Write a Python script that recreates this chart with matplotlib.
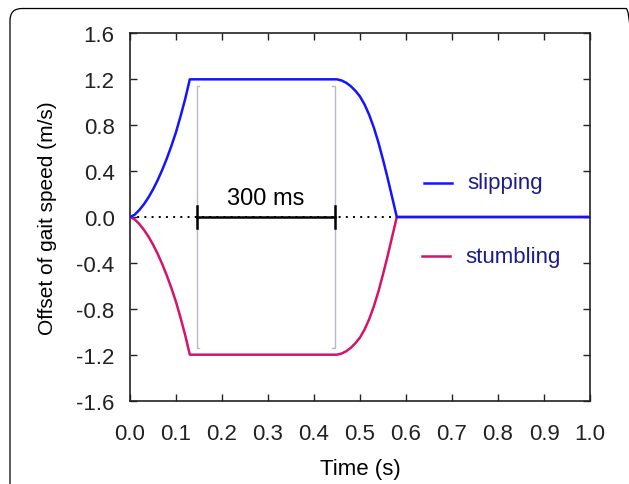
import matplotlib as mpl
mpl.use('Agg')
import matplotlib.pyplot as plt
from matplotlib.patches import FancyBboxPatch

plt.rcParams['font.family'] = ['Liberation Sans', 'DejaVu Sans']

# perturbation profile (time in s, speed offset in m/s)
t_slip = [0.00, 0.01, 0.02, 0.03, 0.04, 0.05, 0.06, 0.07, 0.08, 0.09, 0.10,
          0.11, 0.12, 0.13, 0.45, 0.46, 0.47, 0.48, 0.49, 0.50, 0.51,
          0.52, 0.53, 0.54, 0.55, 0.56, 0.57, 0.58, 1.00]
v_slip = [0.00, 0.02, 0.06, 0.11, 0.17, 0.24, 0.32, 0.41, 0.51, 0.62, 0.74,
          0.88, 1.03, 1.20, 1.20, 1.19, 1.17, 1.14, 1.10, 1.05, 0.98,
          0.89, 0.78, 0.65, 0.50, 0.34, 0.17, 0.00, 0.00]
t_stumble = t_slip
v_stumble = [-v for v in v_slip]

bar_start = 0.145
bar_len = 0.300   # 300 ms
bracket_h = 1.14

xticks = [i / 10 for i in range(11)]
yticks = [-1.6, -1.2, -0.8, -0.4, 0.0, 0.4, 0.8, 1.2, 1.6]

blue = '#1414ff'
red = '#d6136a'
navy = '#1c1c8a'

fig = plt.figure(figsize=(6.29, 4.85), dpi=100)
ax = fig.add_axes([0.2067, 0.172, 0.7313, 0.757])

# rounded frame around the whole figure
frame = FancyBboxPatch((0.10, -0.5), 6.28, 5.255, boxstyle='round,pad=0,rounding_size=0.12',
                       transform=fig.dpi_scale_trans, fill=False, edgecolor='black',
                       linewidth=0.9, clip_on=False)
fig.patches.append(frame)

# zero reference
ax.plot([0, 0.58], [0, 0], color='black', linestyle=(0, (1, 2.7)), linewidth=1.4, zorder=2)

ax.plot(t_stumble, v_stumble, color=red, linewidth=1.8, zorder=3)
ax.plot(t_slip, v_slip, color=blue, linewidth=1.8, zorder=4)

# bracket lines marking the plateau
hook = 0.005
gray = '#b8b8cc'
x0, x1 = bar_start, bar_start + bar_len
ax.plot([x0 + hook, x0, x0, x0 + hook], [bracket_h, bracket_h, -bracket_h, -bracket_h],
        color=gray, linewidth=1.0, zorder=1)
ax.plot([x1 - hook, x1, x1, x1 - hook], [bracket_h, bracket_h, -bracket_h, -bracket_h],
        color=gray, linewidth=1.0, zorder=1)

# 300 ms duration bar
ax.plot([x0, x1], [0, 0], color='black', linewidth=1.8, zorder=5)
for x in (x0, x1):
    ax.plot([x, x], [-0.1, 0.1], color='black', linewidth=1.8, zorder=5)
ax.text((x0 + x1) / 2, 0.07, '300 ms', ha='center', va='bottom', fontsize=17)

# inline legend
ax.plot([0.64, 0.70], [0.30, 0.30], color=blue, linewidth=1.8)
ax.text(0.733, 0.30, 'slipping', color=navy, fontsize=16, va='center')
ax.plot([0.635, 0.695], [-0.34, -0.34], color=red, linewidth=1.8)
ax.text(0.728, -0.34, 'stumbling', color=navy, fontsize=16, va='center')

ax.set_xlim(0, 1)
ax.set_ylim(-1.6, 1.6)
ax.set_xticks(xticks)
ax.set_xticklabels([f'{x:.1f}' for x in xticks])
ax.set_yticks(yticks)
ax.set_yticklabels([f'{y:.1f}' for y in yticks])
ax.tick_params(direction='in', length=5, width=1, top=True, right=True,
               labelsize=16, colors='#222222')
ax.tick_params(axis='x', pad=16)
ax.tick_params(axis='y', pad=11)
for s in ax.spines.values():
    s.set_linewidth(1.2)
    s.set_color('#222222')

ax.set_xlabel('Time (s)', fontsize=16, labelpad=10)
ax.set_ylabel('Offset of gait speed (m/s)', fontsize=15, labelpad=14)

fig.savefig('out.png', dpi=100)
